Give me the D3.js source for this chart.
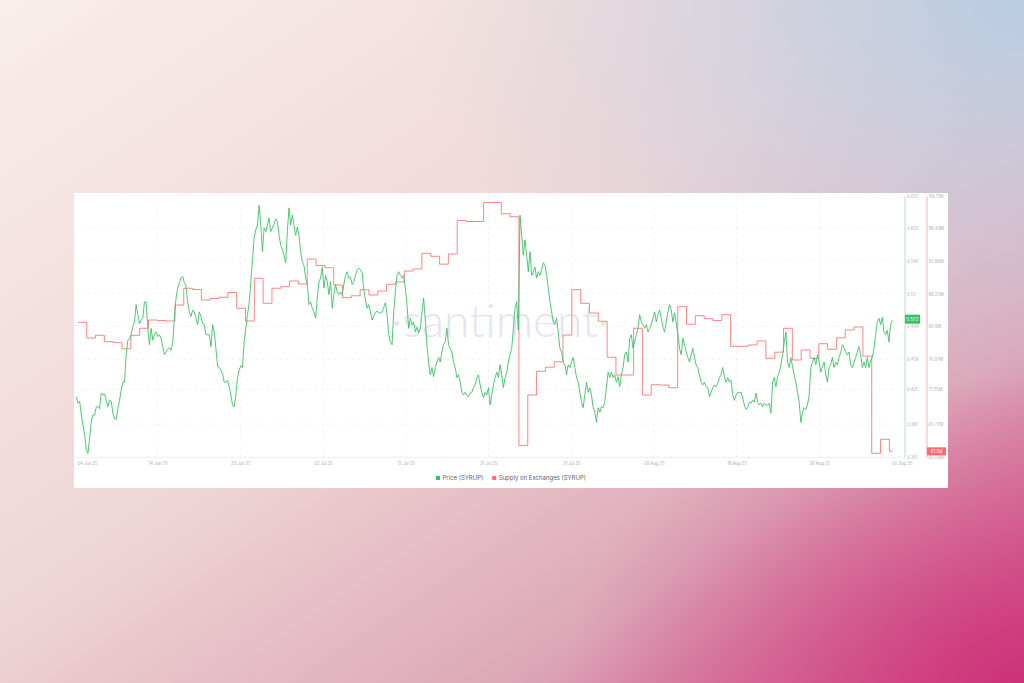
<!DOCTYPE html>
<html><head><meta charset="utf-8">
<script src="https://cdn.jsdelivr.net/npm/d3@7"></script>
<style>html,body{margin:0;padding:0;overflow:hidden;background:#fff}svg{display:block}</style>
</head><body>
<svg id="c" width="1024" height="683"></svg>
<script>
// ---------- DATA ----------
const dateLabels = ["04 Jun 25","14 Jun 25","23 Jun 25","02 Jul 25","12 Jul 25","21 Jul 25","31 Jul 25","09 Aug 25","18 Aug 25","28 Aug 25","05 Sep 25"];
const priceTicks = [0.351,0.387,0.425,0.458,0.494,0.53,0.566,0.602,0.637];
const priceTickLabels = ["0.351","0.387","0.425","0.458","0.494","0.53","0.566","0.602","0.637"];
const supplyTickLabels = ["60.09M","65.72M","71.35M","76.97M","82.6M","88.23M","93.86M","99.49M","105.11M"];
const priceStartDay = -0.18, priceStepDay = 0.1884;   // days after 04 Jun
const price = [
0.417,0.410,0.412,0.397,0.386,0.375,0.359,0.355,0.372,0.390,0.397,0.397,0.406,0.406,0.404,0.421,0.419,0.420,0.413,0.406,
0.413,0.412,0.399,0.393,0.392,0.404,0.413,0.424,0.433,0.433,0.463,0.479,0.480,0.485,0.494,0.499,0.518,0.507,0.497,0.501,
0.503,0.521,0.521,0.492,0.474,0.492,0.479,0.485,0.488,0.483,0.485,0.481,0.472,0.463,0.466,0.469,0.471,0.468,0.476,0.503,
0.525,0.536,0.542,0.547,0.549,0.542,0.538,0.521,0.510,0.505,0.512,0.510,0.503,0.496,0.510,0.505,0.497,0.496,0.485,0.485,
0.485,0.472,0.496,0.488,0.470,0.450,0.449,0.446,0.442,0.433,0.433,0.435,0.428,0.419,0.408,0.406,0.419,
0.438,0.446,0.451,0.449,0.477,0.492,0.507,0.520,0.543,0.567,0.591,0.600,0.605,0.627,0.605,0.576,0.602,0.598,0.605,0.613,
0.598,0.602,0.606,0.612,0.609,0.594,0.583,0.578,0.572,0.564,0.598,0.624,0.605,0.616,0.605,0.594,0.603,0.594,0.576,0.565,
0.561,0.547,0.540,0.518,0.521,0.514,0.510,0.503,0.525,0.543,0.547,0.559,0.536,0.550,0.543,0.529,0.543,0.514,0.529,0.540,
0.532,0.529,0.532,0.529,0.540,0.550,0.554,0.547,0.548,0.540,0.543,0.550,0.556,0.558,0.556,0.553,0.534,0.523,0.514,0.518,
0.510,0.501,0.506,0.509,0.511,0.509,0.509,0.510,0.515,0.520,0.507,0.485,0.477,0.474,0.510,0.532,0.550,0.554,0.550,
0.547,0.550,0.536,0.518,0.492,0.503,0.496,0.499,0.488,0.493,0.487,0.492,0.510,0.525,0.501,0.474,0.455,0.441,0.449,0.439,
0.449,0.455,0.460,0.455,0.466,0.474,0.477,0.492,0.474,0.470,0.466,0.455,0.449,0.438,0.441,0.433,0.422,0.419,0.422,0.419,
0.417,0.421,0.422,0.427,0.430,0.438,0.441,0.430,0.422,0.416,0.422,0.419,0.427,0.408,0.419,0.430,0.438,0.444,0.438,0.452,
0.441,0.427,0.438,0.444,0.455,0.463,0.470,0.492,0.514,0.521,0.490,0.616,0.594,0.572,0.589,0.572,0.554,0.576,0.550,0.554,
0.559,0.547,0.554,0.550,0.556,0.564,0.561,0.550,0.536,0.521,0.510,0.499,0.496,0.503,0.488,0.470,0.466,0.455,0.452,
0.441,0.452,0.449,0.455,0.460,0.449,0.438,0.433,0.422,0.411,0.405,0.419,0.433,0.422,0.427,0.419,0.405,0.400,0.389,0.405,
0.400,0.406,0.405,0.411,0.427,0.444,0.438,0.444,0.438,0.441,0.433,0.439,0.428,0.441,0.449,0.463,0.466,0.455,0.481,0.485,
0.470,0.477,0.485,0.492,0.507,0.499,0.496,0.492,0.496,0.488,0.492,0.496,0.503,0.510,0.499,0.507,0.512,0.503,0.493,0.488,
0.499,0.510,0.518,0.512,0.499,0.509,0.498,0.485,0.470,0.463,0.481,0.474,0.466,0.460,0.455,0.463,0.470,0.460,0.452,0.449,
0.441,0.433,0.430,0.433,0.428,0.427,0.417,0.422,0.427,0.430,0.428,0.432,0.438,0.441,0.449,0.439,0.433,0.438,0.433,
0.435,0.419,0.413,0.419,0.422,0.421,0.422,0.416,0.408,0.403,0.405,0.411,0.410,0.413,0.411,0.421,0.411,0.408,0.410,0.406,
0.410,0.408,0.408,0.410,0.399,0.433,0.438,0.428,0.439,0.444,0.452,0.463,0.477,0.488,0.455,0.449,0.460,0.450,0.441,0.433,
0.422,0.411,0.389,0.400,0.405,0.403,0.408,0.419,0.449,0.455,0.460,0.452,0.463,0.455,0.444,0.450,0.455,0.441,0.433,0.449,
0.452,0.460,0.449,0.455,0.452,0.460,0.466,0.474,0.470,0.466,0.463,0.466,0.452,0.449,0.455,0.460,0.466,0.472,0.463,0.449,
0.455,0.449,0.460,0.449,0.457,0.460,0.470,0.485,0.499,0.503,0.496,0.504,0.488,0.485,0.490,0.477,0.496,0.501
];
// daily supply on exchanges (millions), one value per day from 04 Jun
const supply = [
83.32,80.62,81.08,79.98,79.81,78.77,81.08,82.29,83.72,83.63,83.55,86.31,89.19,88.98,87.17,87.43,87.64,88.46,85.74,83.55,
90.91,86.60,89.19,89.47,90.45,89.93,94.24,93.12,92.74,89.76,87.57,87.90,88.95,88.03,88.72,89.88,90.28,92.17,92.52,95.23,
94.71,93.35,95.11,100.88,100.71,100.71,103.99,103.99,102.06,101.54,62.07,70.78,74.87,75.58,76.53,81.13,88.95,86.60,84.93,83.50,
77.30,74.23,74.23,82.29,70.78,72.56,72.51,72.04,86.02,82.98,84.46,83.95,83.63,84.64,79.18,79.18,79.41,80.10,77.11,78.17,
82.29,76.82,78.55,77.11,79.63,78.67,80.65,82.00,82.51,77.48,60.73,63.14,61.07
];
const priceLast = "0.502", supplyLast = "61.1M";
const legendItems = [{name:"Price (SYRUP)", color:"#37c263"}, {name:"Supply on Exchanges (SYRUP)", color:"#ff6b6b"}];

// ---------- DRAW ----------
const svg = d3.select("#c");
const defs = svg.append("defs");
const lg = defs.append("linearGradient").attr("id","bg").attr("x1","0").attr("y1","0").attr("x2","1").attr("y2","1");
lg.append("stop").attr("offset","0").attr("stop-color","#f9eee9");
lg.append("stop").attr("offset","0.45").attr("stop-color","#efd6d6");
lg.append("stop").attr("offset","0.75").attr("stop-color","#dca7b8");
lg.append("stop").attr("offset","1").attr("stop-color","#cf3f7c");
const rg = defs.append("radialGradient").attr("id","blue").attr("cx","1").attr("cy","0").attr("r","0.6");
rg.append("stop").attr("offset","0").attr("stop-color","#b8cde3").attr("stop-opacity",1);
rg.append("stop").attr("offset","1").attr("stop-color","#c8cfe0").attr("stop-opacity",0);
const rg2 = defs.append("radialGradient").attr("id","mag").attr("cx","1").attr("cy","1").attr("r","0.45");
rg2.append("stop").attr("offset","0").attr("stop-color","#cc3079").attr("stop-opacity",0.9);
rg2.append("stop").attr("offset","1").attr("stop-color","#d45a8c").attr("stop-opacity",0);
svg.append("rect").attr("width",1024).attr("height",683).attr("fill","url(#bg)");
svg.append("rect").attr("width",1024).attr("height",683).attr("fill","url(#blue)");
svg.append("rect").attr("width",1024).attr("height",683).attr("fill","url(#mag)");

// card
svg.append("rect").attr("x",74).attr("y",193).attr("width",874).attr("height",295).attr("fill","#ffffff");

const x = d3.scaleLinear().domain([-0.33, 93.43]).range([75, 902]);
const yP = d3.scaleLinear().domain([0.351, 0.637]).range([457, 196]);
const yS = d3.scaleLinear().domain([60.09, 105.11]).range([457, 196]);
const tickDays = dateLabels.map((d,i)=> -0.33 + i*9.376);

// watermark
svg.append("text").attr("x",500).attr("y",337).attr("text-anchor","middle")
  .attr("font-family","Lato, 'Open Sans', sans-serif").attr("font-weight",300).attr("font-size",46)
  .attr("fill","#e2e5f0").text("·santiment·");

// grid
const g = svg.append("g");
g.selectAll("line.h").data(priceTicks).join("line")
  .attr("x1",75).attr("x2",902).attr("y1",d=>yP(d)).attr("y2",d=>yP(d))
  .attr("stroke","#ececec").attr("stroke-width",0.6).attr("stroke-dasharray","3,3");
g.selectAll("line.v").data(tickDays.slice(1,10)).join("line")
  .attr("x1",d=>x(d)).attr("x2",d=>x(d)).attr("y1",196).attr("y2",457)
  .attr("stroke","#ececec").attr("stroke-width",0.6).attr("stroke-dasharray","3,3");
svg.append("line").attr("x1",75).attr("x2",902).attr("y1",457.5).attr("y2",457.5).attr("stroke","#eeeeee").attr("stroke-width",0.8);

// x axis labels
const xAxis = d3.axisBottom(x).tickValues(tickDays).tickSize(0).tickFormat((d,i)=>dateLabels[i]);
const xa = svg.append("g").attr("transform","translate(0,459)").call(xAxis);
xa.select(".domain").remove();
xa.selectAll("text").attr("fill","#a9adb8").attr("font-size",4.2).attr("font-family","Inter, 'Noto Sans', sans-serif");
xa.selectAll(".tick").filter((d,i)=>i===0).select("text").attr("text-anchor","start").attr("x",2);

// right axes
const pAxis = d3.axisRight(yP).tickValues(priceTicks).tickSize(0).tickFormat((d,i)=>priceTickLabels[i]);
const pa = svg.append("g").attr("transform","translate(904.5,0)").call(pAxis);
pa.select(".domain").attr("stroke","#a9e2b7").attr("stroke-width",0.9);
pa.selectAll("text").attr("fill","#a9adb8").attr("font-size",4.2).attr("x",2.5).attr("font-family","Inter, 'Noto Sans', sans-serif");
const sAxis = d3.axisRight(yS).tickValues(priceTicks.map((d,i)=>yS.invert(yP(d)))).tickSize(0).tickFormat((d,i)=>supplyTickLabels[i]);
const sa = svg.append("g").attr("transform","translate(926.5,0)").call(sAxis);
sa.select(".domain").attr("stroke","#f6a9a9").attr("stroke-width",0.9);
sa.selectAll("text").attr("fill","#a9adb8").attr("font-size",4.2).attr("x",2).attr("font-family","Inter, 'Noto Sans', sans-serif");

// lines
const supplyPts = supply.map((v,i)=>[i,v]);
supplyPts.push([priceStartDay + (price.length-1)*priceStepDay, supply[supply.length-1]]);
svg.append("path").datum(supplyPts)
  .attr("d", d3.line().x(d=>x(d[0])).y(d=>yS(d[1])).curve(d3.curveStepAfter))
  .attr("fill","none").attr("stroke","#ff7070").attr("stroke-width",1).attr("stroke-opacity",0.85);
svg.append("path").datum(price)
  .attr("d", d3.line().x((d,i)=>x(priceStartDay + i*priceStepDay)).y(d=>yP(d)))
  .attr("fill","none").attr("stroke","#3cc266").attr("stroke-width",0.9).attr("stroke-linejoin","round");

// last value badges
const pb = svg.append("g").attr("transform",`translate(905,${yP(+priceLast)})`);
pb.append("rect").attr("x",0).attr("y",-4.5).attr("width",15).attr("height",9).attr("fill","#35c160");
pb.append("text").attr("x",7.5).attr("y",1.6).attr("text-anchor","middle").attr("font-size",4.5).attr("fill","#fff").attr("font-family","Inter, sans-serif").text(priceLast);
const sb = svg.append("g").attr("transform",`translate(927,${yS(supply[supply.length-1])})`);
sb.append("rect").attr("x",0).attr("y",-4).attr("width",19).attr("height",8).attr("fill","#ff6b6b");
sb.append("text").attr("x",9.5).attr("y",1.6).attr("text-anchor","middle").attr("font-size",4.5).attr("fill","#fff").attr("font-family","Inter, sans-serif").text(supplyLast);

// legend
const leg = svg.append("g").attr("transform","translate(436,478)");
let lx = 0;
legendItems.forEach((it,i)=>{
  const gi = leg.append("g").attr("transform",`translate(${lx},0)`);
  gi.append("rect").attr("x",0).attr("y",-2).attr("width",4).attr("height",4).attr("fill",it.color);
  const t = gi.append("text").attr("x",6.5).attr("y",2).attr("font-size",6).attr("fill","#5d6270")
    .attr("font-family","Inter, 'Noto Sans', sans-serif").text(it.name);
  lx += 6.5 + t.node().getComputedTextLength() + 9;
});
</script>
</body></html>
